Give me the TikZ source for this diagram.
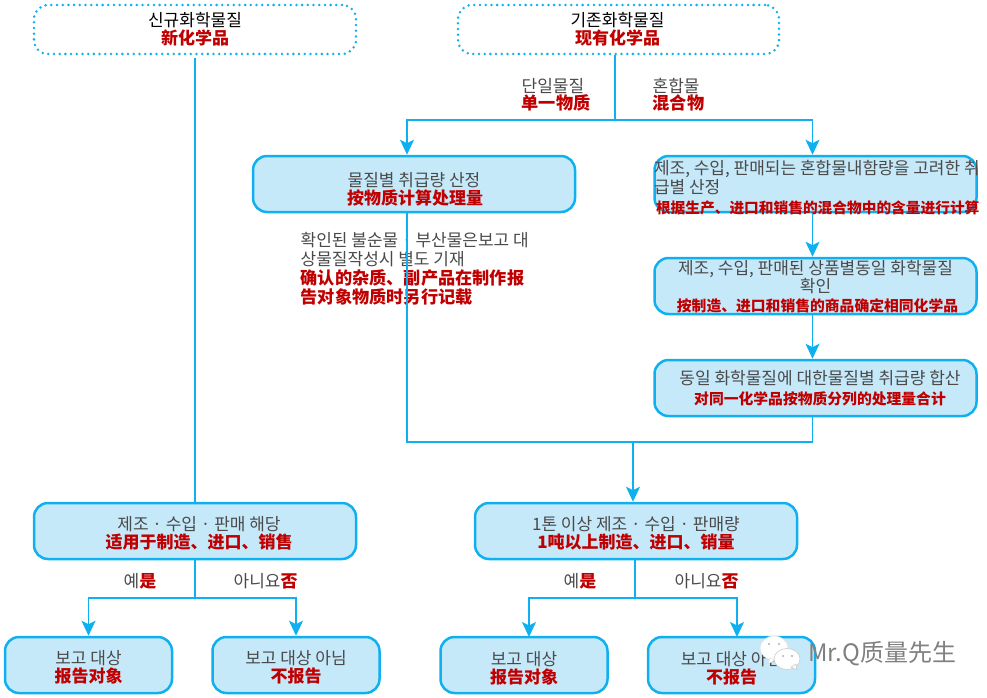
\documentclass[tikz,border=0pt]{standalone}
\usepackage{fontspec}
\usetikzlibrary{arrows.meta,shapes.geometric}
\newfontfamily\kofont{Noto Sans CJK KR}
\newfontfamily\zhfont{Noto Sans CJK SC}
\definecolor{cyanline}{HTML}{0FB0EF}
\definecolor{boxfill}{HTML}{C6E9FA}
\definecolor{kotext}{HTML}{4A4A4A}
\definecolor{zhtext}{HTML}{C00000}
\definecolor{wmtext}{HTML}{808080}
\newcommand{\KO}[2][17]{\makebox[0pt]{\fontsize{#1}{18.5}\kofont\color{kotext}#2}}
\newcommand{\KD}[2][17]{\makebox[0pt]{\fontsize{#1}{18.5}\kofont\color{black}#2}}
\newcommand{\ZH}[2][17]{\makebox[0pt]{\fontsize{#1}{18.5}\zhfont\bfseries\color{zhtext}#2}}
\newcommand{\KL}[1]{\makebox[0pt][l]{\fontsize{17}{18.5}\kofont\color{kotext}#1}}
\newcommand{\ZL}[2][17.2]{\makebox[0pt][l]{\fontsize{#1}{18.5}\zhfont\bfseries\color{zhtext}#2}}
\newcommand{\pad}[1]{\rule{0pt}{#1pt}}
\tikzset{
  x=1pt,y=-1pt,
  flowbox/.style={draw=cyanline,fill=boxfill,line width=2.5pt,rounded corners=14pt,
    inner sep=0pt,align=center,font=\fontsize{16}{18}\selectfont},
  dotbox/.style={draw=cyanline,line width=2.8pt,rounded corners=14pt,line cap=round,
    dash pattern=on 0pt off 5.7pt,inner sep=0pt,align=center,font=\fontsize{16}{19}\selectfont},
  wide/.style={minimum width=322pt,minimum height=56pt},
  small/.style={minimum width=167pt,minimum height=56pt},
  lab/.style={inner sep=0pt,align=left,font=\fontsize{16}{19}\selectfont},
  boxtext/.style={inner sep=0pt,align=center,font=\fontsize{16}{18}\selectfont},
  link/.style={draw=cyanline,line width=1.4pt},
  arrow/.style={link,-{Stealth[length=15pt,width=14pt,inset=3.5pt]}},
}
\begin{document}
\begin{tikzpicture}
\useasboundingbox (0,0) rectangle (987,698);
% junctions
\coordinate (jt) at (615,120);
\coordinate (jl) at (407,120);
\coordinate (jr) at (812.5,120);
\coordinate (jm) at (633,442);
\coordinate (jy1) at (195,598);
\coordinate (jy2) at (635,598);

\node[dotbox,minimum width=322pt,minimum height=49pt] (new) at (195,29.5) {\KD{신규화학물질}\\[-1pt]\ZH{新化学品}};
\node[dotbox,minimum width=321pt,minimum height=49pt] (exist) at (618.5,29.5) {\hspace*{-1pt}\KD{기존화학물질}\\[-1pt]\hspace*{-1pt}\ZH{现有化学品}};
\node[flowbox,wide] (calc) at (414,184) {\pad{24}\KO{물질별 취급량 산정}\\\hspace*{2pt}\ZH{按物质计算处理量}};
\node[flowbox,wide] (mix) at (815.5,184) {};
\node[boxtext] (mixtext) at (815.5,188) {\makebox[323pt][l]{\KL{제조, 수입, 판매되는 혼합물내함량을 고려한 취}}\\[1pt]\makebox[323pt][l]{\KL{급별 산정}}\\[2pt]\makebox[323pt][l]{\hspace*{2pt}\ZL[14.7]{根据生产、进口和销售的混合物中的含量进行计算}}};
\node[flowbox,wide] (same) at (815.5,286) {};
\node[boxtext] (sametext) at (815.5,286.5) {\KO{제조, 수입, 판매된 상품별동일 화학물질}\\\KO{확인}\\[1pt]\hspace*{4pt}\ZH[14.8]{按制造、进口和销售的商品确定相同化学品}};
\node[flowbox,wide] (sum) at (815.5,388) {\hspace*{9pt}\KO{동일 화학물질에 대한물질별 취급량 합산}\\[2pt]\hspace*{9pt}\ZH[14.8]{对同一化学品按物质分列的处理量合计}};
\node[flowbox,wide] (apply) at (195,531) {\pad{19}\hspace*{8pt}\KO{제조 · 수입 · 판매 해당}\\\hspace*{8pt}\ZH{适用于制造、进口、销售}};
\node[flowbox,wide] (ton) at (636,531) {\pad{19}\KO{1톤 이상 제조 · 수입 · 판매량}\\\ZH{1吨以上制造、进口、销量}};
\node[flowbox,small] (r1) at (88.5,665) {\pad{19}\KO{보고 대상}\\\ZH{报告对象}};
\node[flowbox,small] (n1) at (296,665) {\pad{19}\KO{보고 대상 아님}\\\ZH{不报告}};
\node[flowbox,small] (r2) at (524,665) {\pad{21}\KO{보고 대상}\\\ZH{报告对象}};
\node[flowbox,small] (n2) at (731.5,665) {\pad{21}\KO{보고 대상 아님}\\\ZH{不报告}};

% text labels
\node[lab,anchor=north west] (note) at (300,232) {\KL{확인된 불순물 · 부산물은보고 대}\\\KL{상물질작성시 별도 기재}\\\ZL{确认的杂质、副产品在制作报}\\\ZL{告对象物质时另行记载}};
\node[lab,anchor=north west] (single) at (521,78) {\KL{단일물질}\\[-2pt]\ZL{单一物质}};
\node[lab,anchor=north west] (blend) at (652,78) {\KL{혼합물}\\[-2pt]\ZL{混合物}};
\node[lab,anchor=west] (yes1) at (123,581) {\KL{예\textcolor{zhtext}{\zhfont\bfseries 是}}};
\node[lab,anchor=west] (no1) at (233,581) {\KL{아니요\textcolor{zhtext}{\zhfont\bfseries 否}}};
\node[lab,anchor=west] (yes2) at (563,581) {\KL{예\textcolor{zhtext}{\zhfont\bfseries 是}}};
\node[lab,anchor=west] (no2) at (674,581) {\KL{아니요\textcolor{zhtext}{\zhfont\bfseries 否}}};

% connectors
\draw[link,shorten <=3pt] (new.south) -- (apply.north);
\draw[link] (exist.south -| jt) -- (jt);
\draw[arrow] (jt) -- (jl) -- (calc.north -| jl);
\draw[arrow] (jt) -- (jr) -- (mix.north -| jr);
\draw[arrow] (mix.south -| jr) -- (same.north -| jr);
\draw[arrow] (same.south -| jr) -- (sum.north -| jr);
\draw[link] (calc.south -| jl) -- (jl |- jm) -- (jr |- jm) -- (sum.south -| jr);
\draw[arrow] (jm) -- (ton.north -| jm);
\draw[link] (apply.south) -- (jy1);
\draw[arrow] (jy1) -- (r1.north |- jy1) -- (r1.north);
\draw[arrow] (jy1) -- (n1.north |- jy1) -- (n1.north);
\draw[link] (ton.south -| jy2) -- (jy2);
\draw[arrow] (jy2) -- (529,598) -- (529,637);
\draw[arrow] (jy2) -- (737,598) -- (737,637);

% watermark
\fill[white,draw=gray!25,line width=0.5pt] (774,648) ellipse [x radius=14pt,y radius=12pt];
\fill[white,draw=gray!25,line width=0.5pt] (770,658) -- (768,664) -- (775,660) -- cycle;
\fill[gray!60] (769,644) circle [radius=1.1pt] (779,644) circle [radius=1.1pt];
\fill[white,draw=gray!40,line width=0.6pt] (787,659) ellipse [x radius=13pt,y radius=10.5pt];
\fill[white,draw=gray!40,line width=0.6pt] (791,667) -- (797,670) -- (796,664) -- cycle;
\fill[gray!60] (783,656) circle [radius=1.1pt] (792,656) circle [radius=1.1pt];
\node[inner sep=0pt,anchor=west,text=wmtext,font=\fontsize{24}{26}\zhfont] (mark) at (808,654) {Mr.Q质量先生};
\end{tikzpicture}
\end{document}
